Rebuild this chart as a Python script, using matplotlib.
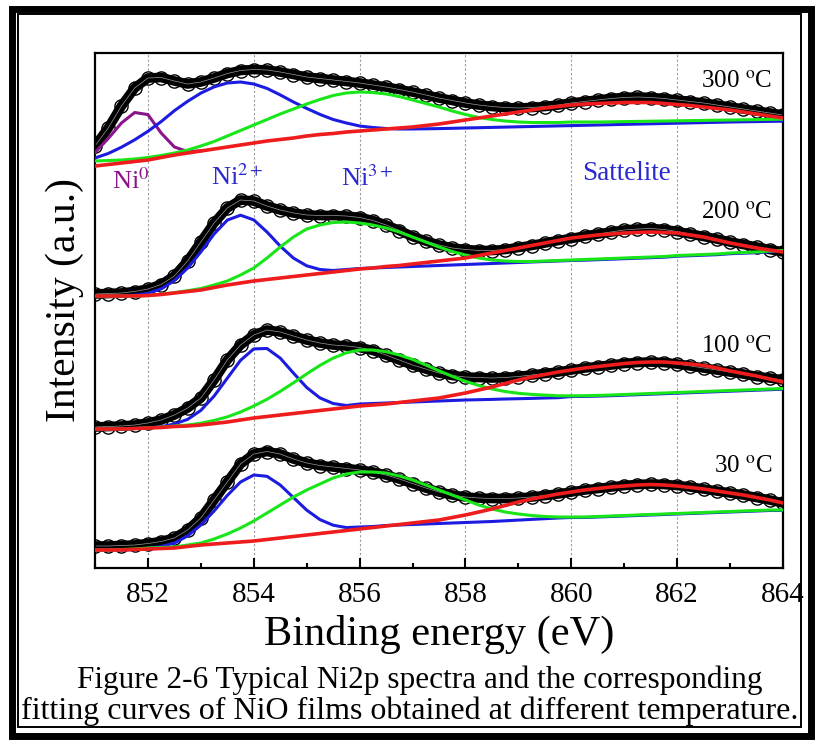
import numpy as np
import matplotlib
matplotlib.use('Agg')
import matplotlib.pyplot as plt
from matplotlib.patches import Rectangle
from matplotlib.ticker import MultipleLocator

plt.rcParams['font.family'] = ['Liberation Serif', 'DejaVu Serif']
plt.rcParams['mathtext.fontset'] = 'stix'

# binding energy grid (eV)
energy = np.linspace(851, 864, 53)

# intensities, each relative to its own baseline (a.u.)
data_30 = [4, 4, 4.5, 5, 6.5, 8.5, 12, 20, 32, 50,
           68, 86, 96, 98.5, 96, 91, 87, 84.5, 83, 81.5,
           80, 78, 75, 71, 66.5, 62, 58, 55, 53, 52,
           51.5, 51.5, 52, 53, 54.5, 56, 58, 60, 61.5, 63,
           64.5, 65.5, 66, 65.5, 64.5, 63, 61, 59, 57, 55,
           52.5, 50, 47]
ni2_30 = [0, 0, 0, 0.5, 1.7, 3.5, 6.9, 14.1, 25, 39,
          54.6, 68, 75, 73.7, 65, 52.4, 39.9, 30.4, 24.8, 22.4,
          23, 23.5, 24.5, 25, 25.5, 26, 26.5, 27, 27.5, 28,
          28.5, 29.2, 29.9, 30.6, 31.3, 32, 32.5, 32.5, 33, 33.5,
          34, 34.5, 35, 35.5, 36, 36.5, 37, 37.5, 38, 38.5,
          39, 39.5, 39.5]
ni3_30 = [0, 0, 0.5, 1, 2, 2.5, 3, 5, 7, 11,
          16, 22, 29, 37, 45, 53, 60, 66, 72, 76,
          78, 78, 77, 74, 70, 65, 60, 55, 50, 45,
          41, 38, 36, 34.5, 33.5, 33, 33, 33, 33.5, 34,
          34.5, 35, 35.5, 36, 36.5, 37, 37.5, 38, 38.5, 39,
          39.5, 40, 40]
sat_30 = [0, 0, 0, 0.5, 1, 1.5, 2, 3.5, 5, 6,
          7, 8, 9, 10.5, 12, 13.5, 15, 16.5, 18, 19.5,
          21, 22.5, 24, 25.5, 27, 28.5, 30, 32.5, 35, 38,
          41, 44.5, 48, 51, 53.5, 56, 58, 60, 61.5, 63,
          64, 65, 65.5, 65, 64, 62.5, 61, 59, 57, 55,
          52.5, 50, 47]

data_100 = [2, 2.5, 3, 4, 6, 9, 14, 21, 31, 49,
            69, 84, 94, 99, 97, 93, 89, 86, 84, 83,
            81.5, 78.5, 74, 69, 64, 60, 56, 53.5, 52, 51.5,
            51, 51.5, 52.5, 54, 55.5, 57, 59, 61, 62.5, 64,
            65.5, 66.5, 67, 66.5, 65, 63, 61, 59, 57, 55,
            52.5, 51, 49]
ni2_100 = [0, 0, 0, 0.5, 1.2, 2.3, 5, 9.6, 18.6, 32.9,
           50.8, 68.7, 80.1, 80.5, 70.9, 55.9, 41.5, 31.1, 25.5, 23.5,
           25, 25.5, 26, 26.5, 27, 27.5, 28, 28.5, 29, 29.3,
           29.6, 30, 30.3, 30.6, 31, 31.3, 32.5, 32.6, 32.9, 33.3,
           33.8, 34.3, 34.8, 35.3, 35.8, 36.3, 36.8, 37.3, 37.8, 38.3,
           38.8, 39.3, 39.8]
ni3_100 = [0, 0, 0, 0.5, 1.2, 1.8, 3, 4, 5.8, 8.6,
           12.1, 17, 23, 29.7, 37.6, 46.2, 55.1, 63.6, 70.9, 76.2,
           79, 79, 77.3, 74, 69.6, 64, 58.2, 52.7, 47.7, 43.5,
           40.1, 37.5, 35.7, 34.6, 33.9, 33.2, 33.2, 33.3, 33.6, 34,
           34.5, 35, 35.5, 36, 36.5, 37, 37.5, 38, 38.5, 39,
           39.5, 40, 40.5]
sat_100 = [0, 0, 0, 0.5, 1, 1.5, 2.5, 3, 4, 5.5,
           7, 9, 11, 12.5, 14, 15.5, 17, 18.5, 20, 21.5,
           23, 24, 25, 26.5, 28, 29.5, 31, 33.5, 36, 39,
           42, 45.5, 49, 52, 54.5, 57, 59, 61, 62.5, 64,
           65.5, 66.5, 67, 67, 66, 65, 63.5, 61, 58, 55.5,
           53, 50, 47]

data_200 = [2, 2.5, 3, 4.5, 7, 11.5, 20, 35, 54, 73,
            88, 96, 95, 90, 86, 83, 81, 80.5, 80.5, 80,
            78.5, 75.5, 71, 65.5, 59.5, 55, 51, 48, 46.5, 45.5,
            45.5, 46.5, 48.5, 50.5, 53, 55.5, 57.5, 60, 62, 64,
            66, 67, 67.5, 66.5, 64.5, 62, 59.5, 57, 54, 51.5,
            49, 46.5, 44]
ni2_200 = [0, 0, 0.2, 0.8, 2.7, 7.1, 15.4, 27.9, 44.1, 62,
           75.9, 80.8, 76.1, 64, 49.9, 37.9, 30.2, 26.5, 25.5, 26.5,
           27.5, 28, 28.5, 29, 29.5, 30, 30.5, 31, 31.5, 32,
           32.5, 33, 33.5, 34, 34.5, 35, 35.5, 35.8, 36.3, 36.8,
           37.3, 37.8, 38.3, 38.8, 39.8, 40.3, 40.8, 41.3, 42.3, 42.8,
           43.3, 44.3, 44.8]
ni3_200 = [0, 0, 0, 0, 0.5, 1.7, 3.4, 5.3, 7.5, 11,
           15, 21, 28, 38, 49, 59, 67, 71, 73.5, 74,
           73, 71, 68, 64, 59, 54, 49, 44.5, 41, 38,
           36, 35, 34.5, 34.5, 35, 35.5, 36, 36.5, 37, 37.5,
           38, 38.5, 39, 39.5, 40.5, 41, 41.5, 42, 43, 43.5,
           44, 45, 45.5]
sat_200 = [0, 0, 0, 0, 0.5, 1.5, 3, 4.5, 6, 8.5,
           11, 13, 15, 16.5, 18, 19.5, 21, 22.5, 24, 25.5,
           27, 28, 29.5, 30.5, 32, 33.5, 35, 36.5, 38, 40.5,
           43, 45.5, 48, 50.5, 53, 55.5, 58, 59.5, 61, 62,
           63, 63.5, 64, 63.5, 63, 61, 59, 56, 53, 50.5,
           48, 46, 44]

data_300 = [20, 38, 60, 78, 88, 88.5, 85, 82, 84, 88,
            92.5, 95.5, 96.5, 96, 94, 91.5, 89, 87.5, 86, 84.5,
            83, 81, 79, 76.5, 74, 71, 68, 65.5, 63, 61,
            59.5, 58.5, 58, 58.5, 59.5, 61, 63, 64.5, 66, 67.5,
            68.5, 69, 68.5, 67.5, 66, 64.5, 63, 61, 59, 57,
            55, 53, 51]
ni0_300 = [13.5, 27.5, 43, 53.5, 51.4, 33, 19, 14.5, 15.2] + [np.nan] * 44
ni2_300 = [8, 12.5, 18.8, 26.2, 34.7, 44.4, 55.3, 64.7, 72.9, 79.1,
           83, 84, 82, 77.6, 71.1, 64, 57.6, 51.6, 46.5, 43,
           40, 38.5, 37.5, 37, 37, 37.2, 37.4, 37.7, 38, 38.3,
           38.6, 38.9, 39.2, 39.5, 39.8, 40.1, 40.4, 40.7, 41, 41.3,
           41.6, 41.9, 42.2, 42.5, 42.8, 43.1, 43.4, 43.7, 44, 44.2,
           44.4, 44.6, 44.8]
ni3_300 = [5, 5.5, 6, 7, 8.5, 10.5, 13, 16, 20, 24.5,
           30, 35.5, 41, 46.5, 52, 57, 62, 66.5, 70.5, 73,
           74, 73.5, 72, 69.5, 66, 62.5, 59, 55, 51.5, 48.5,
           46.5, 45, 44, 43.5, 43.5, 43.5, 44, 44, 44, 44.2,
           44.4, 44.6, 44.8, 45, 45.2, 45.4, 45.6, 45.8, 46, 46.2,
           46.4, 46.6, 46.8]
sat_300 = [0, 1.5, 3, 4.5, 6, 8.5, 11, 13, 15, 17,
           19, 21, 23, 25, 26.5, 28, 30, 31.5, 32.5, 34,
           35, 36, 37, 38, 39, 40.5, 42, 44, 46, 48,
           50, 52, 54, 56, 58, 59.5, 61, 62, 62.5, 63,
           63.5, 63.5, 63.5, 62.5, 61.5, 60.5, 59, 57.5, 56, 54,
           52, 50, 48]

temps = ['30', '100', '200', '300']
offsets = [18, 139, 272, 402]
spectra = [
    (data_30, None, ni2_30, ni3_30, sat_30),
    (data_100, None, ni2_100, ni3_100, sat_100),
    (data_200, None, ni2_200, ni3_200, sat_200),
    (data_300, ni0_300, ni2_300, ni3_300, sat_300),
]

c_blue = '#1c1ce0'
c_green = '#19e619'
c_red = '#ee1c1c'
c_purple = '#8a158a'
c_label = '#2a2ad0'

fig = plt.figure(figsize=(8.18, 7.40), dpi=100)
ax = fig.add_axes([95 / 818, 172 / 740, 688 / 818, 515 / 740])

for (dat, ni0, ni2, ni3, sat), off in zip(spectra, offsets):
    d = np.array(dat) + off
    # measured points: heavy black band of overlapping open circles
    ax.plot(energy, d, color='black', lw=7, zorder=2)
    ax.plot(energy, d, 'o', ms=9.5, mfc='none', mec='black', mew=1.0, zorder=2)
    ax.plot(energy, d, color='white', lw=0.5, alpha=0.6, zorder=2)
    if ni0 is not None:
        ax.plot(energy, np.array(ni0) + off, color=c_purple, lw=2.2, zorder=3)
    ax.plot(energy, np.array(ni2) + off, color=c_blue, lw=2.2, zorder=3)
    ax.plot(energy, np.array(ni3) + off, color=c_green, lw=2.2, zorder=4)
    ax.plot(energy, np.array(sat) + off, color=c_red, lw=2.6, zorder=5)

# temperature labels
for t, ypos in zip(temps, [101, 221, 355, 486]):
    ax.text(863.8, ypos, t + r' $^{\mathrm{o}}$C', ha='right', va='center', fontsize=18)

# peak labels
ax.text(851.68, 387, r'Ni$^{0}$', color=c_purple, ha='center', va='center', fontsize=19)
ax.text(853.68, 391, r'Ni$^{2+}$', color=c_label, ha='center', va='center', fontsize=19)
ax.text(856.15, 390, r'Ni$^{3+}$', color=c_label, ha='center', va='center', fontsize=19)
ax.text(861.04, 394, 'Sattelite', color=c_label, ha='center', va='center', fontsize=19.5)

ax.set_xlim(851, 864)
ax.set_ylim(0, 515)
ax.xaxis.set_major_locator(MultipleLocator(2))
ax.xaxis.set_minor_locator(MultipleLocator(1))
ax.set_yticks([])
ax.grid(axis='x', which='major', color='#999999', ls=(0, (2, 2)), lw=0.8)
ax.tick_params(axis='x', which='major', direction='in', length=7, width=1.5,
               labelsize=21, pad=10)
ax.tick_params(axis='x', which='minor', direction='in', length=3.5, width=1.5)
for s in ax.spines.values():
    s.set_linewidth(1.6)

ax.set_xlabel('Binding energy (eV)', fontsize=30.5)
ax.xaxis.set_label_coords(0.5, -0.13)
ax.xaxis.label.set_va('center')
ax.set_ylabel('Intensity (a.u.)', fontsize=30)
ax.yaxis.set_label_coords(-0.044, 0.52)
ax.yaxis.label.set_va('center')

fig.text(420 / 818, 1 - 680 / 740, 'Figure 2-6 Typical Ni2p spectra and the corresponding',
         ha='center', va='center', fontsize=22.5)
fig.text(410 / 818, 1 - 711 / 740, 'fitting curves of NiO films obtained at different temperature.',
         ha='center', va='center', fontsize=23)

# double frame around the figure
fig.patches.append(Rectangle((11.5 / 818, 1 - 736 / 740), 799.5 / 818, 727.5 / 740,
                             transform=fig.transFigure, fill=False, lw=5.0, ec='black'))
fig.patches.append(Rectangle((18 / 818, 1 - 727 / 740), 783 / 818, 713 / 740,
                             transform=fig.transFigure, fill=False, lw=1.4, ec='black'))

fig.savefig('out.png', dpi=100)
